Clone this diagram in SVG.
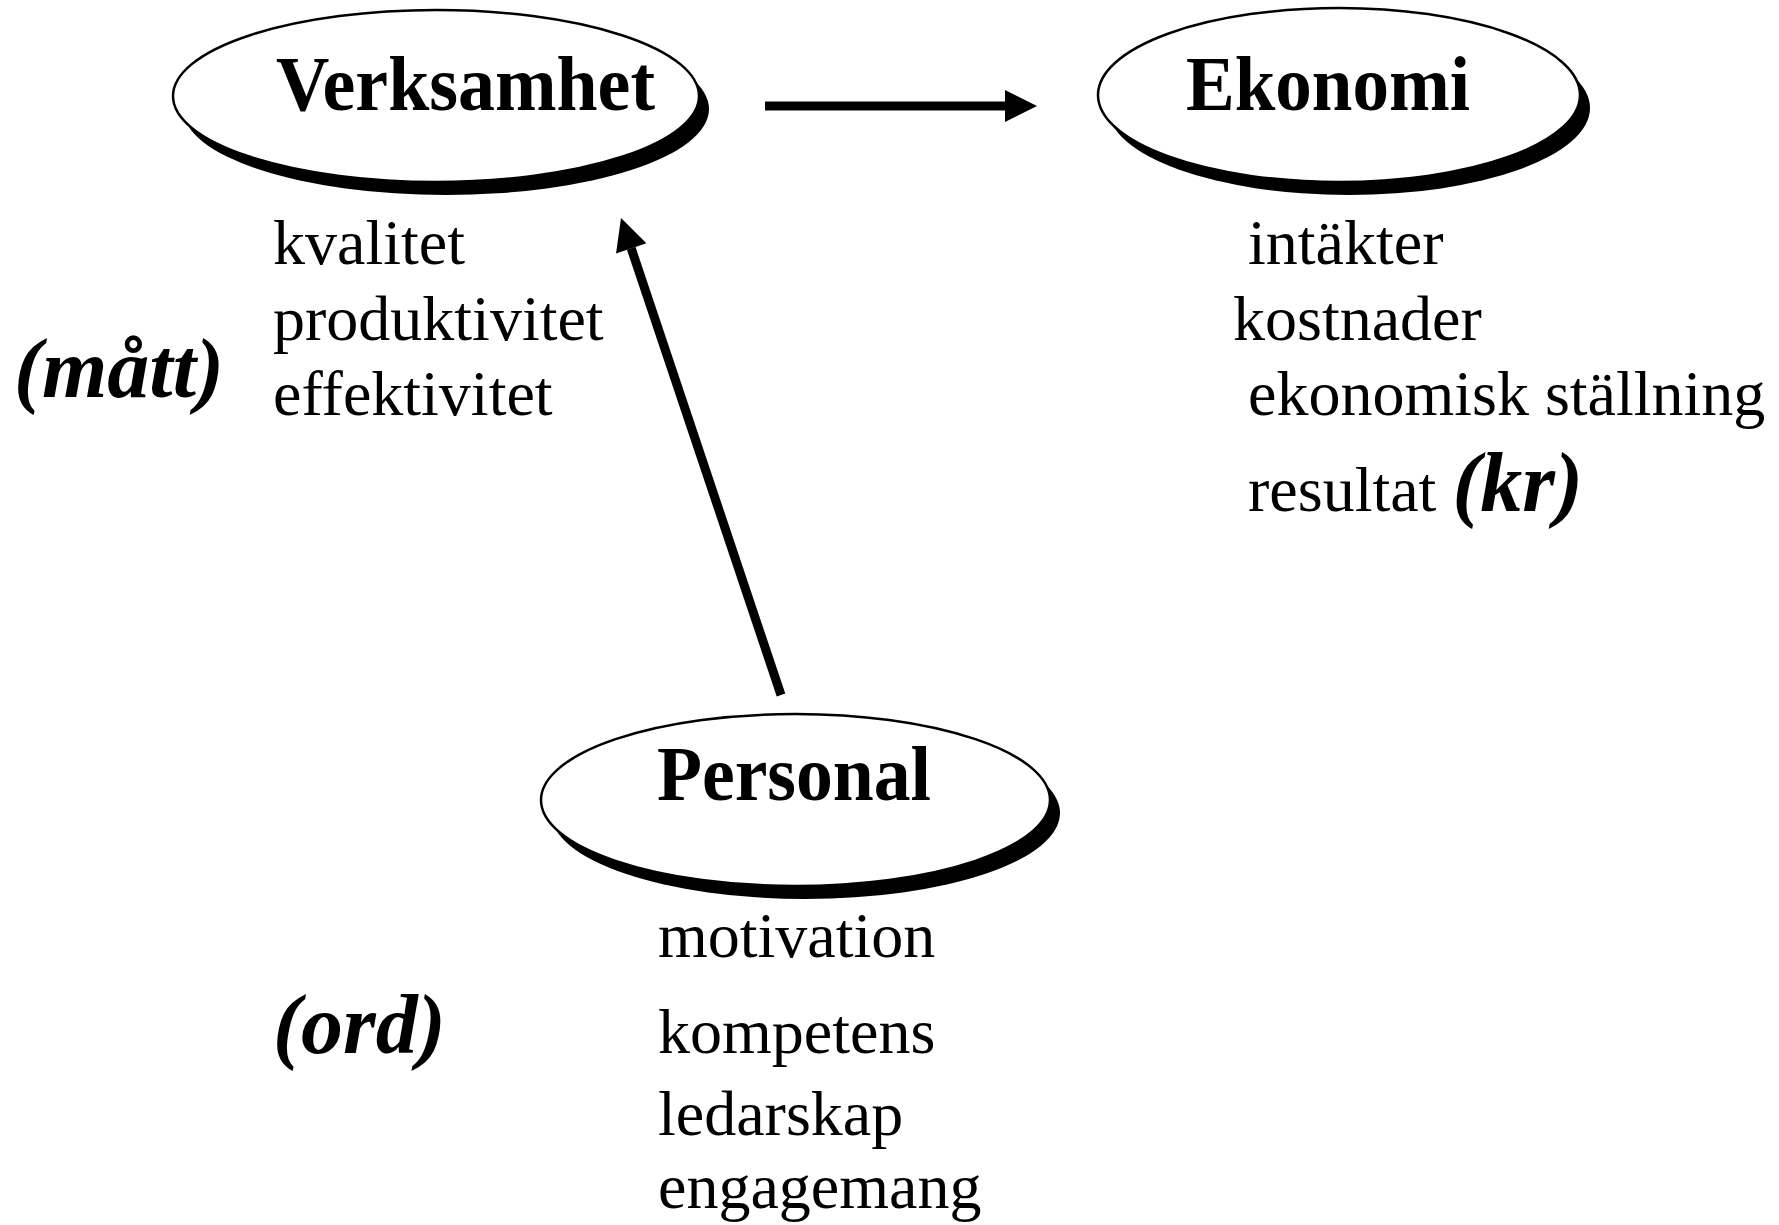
<svg xmlns="http://www.w3.org/2000/svg" width="1779" height="1225" viewBox="0 0 1779 1225">
  <style>
    .shadow { fill: #000; }
    .oval { fill: #fff; stroke: #000; stroke-width: 2.5; }
    .title { font-family: "Liberation Serif", "Times New Roman", serif; font-weight: bold; font-size: 78px; fill: #000; }
    .item { font-family: "Liberation Serif", "Times New Roman", serif; font-size: 64px; fill: #000; }
    .unit { font-family: "Liberation Serif", "Times New Roman", serif; font-weight: bold; font-style: italic; font-size: 84px; fill: #000; }
    .conn { stroke: #000; stroke-width: 9; fill: none; marker-end: url(#head); }
  </style>
  <defs>
    <marker id="head" markerUnits="userSpaceOnUse" markerWidth="32" markerHeight="32" viewBox="0 0 32 32" refX="0" refY="16" orient="auto" overflow="visible">
      <path d="M0,0 L32,16 L0,32 Z" fill="#000"/>
    </marker>
  </defs>
  <rect width="1779" height="1225" fill="#fff"/>

  <g id="connectors">
    <line class="conn" x1="765" y1="106" x2="1005" y2="106"/>
    <line class="conn" x1="781" y1="695" x2="631.2" y2="248.3"/>
  </g>

  <g id="verksamhet">
    <ellipse class="shadow" cx="446" cy="109" rx="263" ry="86"/>
    <ellipse class="oval" cx="436" cy="96" rx="263" ry="86"/>
    <text class="title" x="276" y="110" textLength="379" lengthAdjust="spacingAndGlyphs">Verksamhet</text>
  </g>

  <g id="ekonomi">
    <ellipse class="shadow" cx="1349" cy="108" rx="241" ry="87"/>
    <ellipse class="oval" cx="1339" cy="95" rx="241" ry="87"/>
    <text class="title" x="1186" y="110" textLength="284" lengthAdjust="spacingAndGlyphs">Ekonomi</text>
  </g>

  <g id="personal">
    <ellipse class="shadow" cx="805.5" cy="813" rx="254.5" ry="86"/>
    <ellipse class="oval" cx="795.5" cy="800" rx="254.5" ry="86"/>
    <text class="title" x="657" y="800" textLength="274" lengthAdjust="spacingAndGlyphs">Personal</text>
  </g>

  <g id="verksamhet-items">
    <text class="item" x="273" y="264">kvalitet</text>
    <text class="item" x="273" y="340">produktivitet</text>
    <text class="item" x="273" y="415">effektivitet</text>
    <text class="unit" x="14" y="397">(mått)</text>
  </g>

  <g id="ekonomi-items">
    <text class="item" x="1248" y="264">intäkter</text>
    <text class="item" x="1233" y="340">kostnader</text>
    <text class="item" x="1248" y="415">ekonomisk ställning</text>
    <text class="item" x="1248" y="511">resultat <tspan class="unit">(kr)</tspan></text>
  </g>

  <g id="personal-items">
    <text class="item" x="658" y="957">motivation</text>
    <text class="item" x="658" y="1053">kompetens</text>
    <text class="item" x="658" y="1135">ledarskap</text>
    <text class="item" x="658" y="1208">engagemang</text>
    <text class="unit" x="273" y="1053">(ord)</text>
  </g>
</svg>
